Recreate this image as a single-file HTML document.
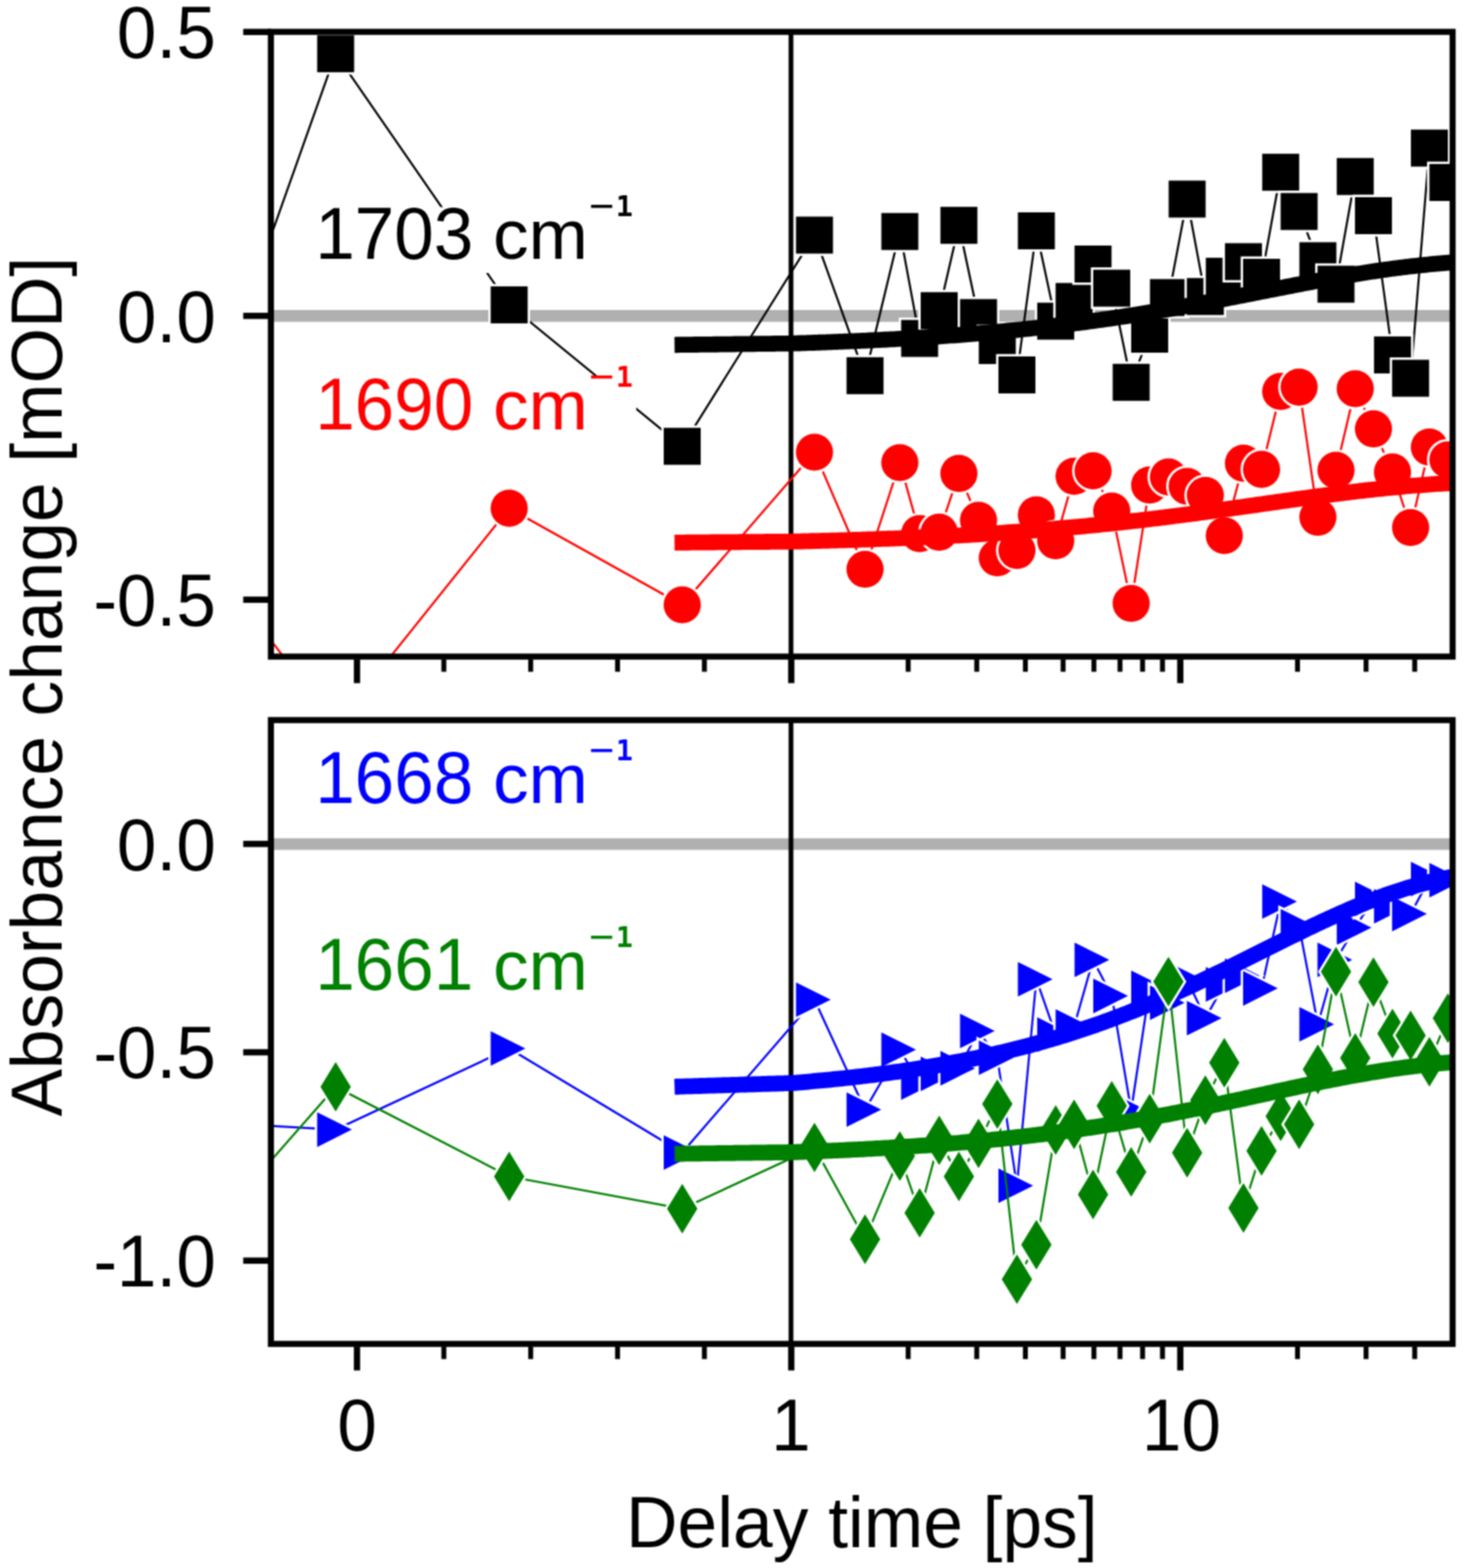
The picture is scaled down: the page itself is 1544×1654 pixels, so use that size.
<!DOCTYPE html><html><head><meta charset="utf-8"><title>Absorbance change vs delay time</title>
<style>html,body{margin:0;padding:0;background:#fff;}svg{display:block;}</style></head><body>
<svg width="1544" height="1654" viewBox="0 0 1544 1654">
<defs><filter id="soft" x="0" y="0" width="1544" height="1654" filterUnits="userSpaceOnUse" color-interpolation-filters="sRGB"><feConvolveMatrix order="3" kernelMatrix="1 2 1 2 4 2 1 2 1" divisor="16" edgeMode="duplicate"/></filter></defs>
<g filter="url(#soft)">
<rect width="100%" height="100%" fill="#fff"/>
<defs><clipPath id="c1"><rect x="285.7" y="33.6" width="1246.3" height="659"/></clipPath>
<clipPath id="c2"><rect x="285.7" y="759.6" width="1246.3" height="658"/></clipPath></defs>
<g clip-path="url(#c1)"><line x1="285.7" y1="333.2" x2="1532" y2="333.2" stroke="#b0b0b0" stroke-width="12.4"/><line x1="834.2" y1="33.6" x2="834.2" y2="692.6" stroke="#000" stroke-width="5"/><polyline points="171,572 354,56.7 537,321.6 719.5,470.8 859,248 912.3,396.3 949,244.2 969.9,357 990.5,327.7 1011.3,237.7 1032,335 1051.8,364.5 1072.5,395.5 1093,243.5 1113.4,338.8 1132.8,318 1152.8,278.5 1172.5,304 1193,403.3 1212.5,352.5 1232.3,313.9 1252,210 1271.2,312.8 1291.2,291.4 1311.4,276 1330.5,292.5 1350.7,181.7 1370.1,223.1 1389.9,275 1409,299.8 1429.3,186.2 1448.5,227.5 1468.6,374.4 1487.7,399 1507.5,156.2 1527,192.5" fill="none" stroke="#000" stroke-width="2.2" stroke-linejoin="miter"/><rect x="151.5" y="552.5" width="39" height="39" fill="#000" stroke="#fff" stroke-width="5" paint-order="stroke"/><rect x="334.5" y="37.2" width="39" height="39" fill="#000" stroke="#fff" stroke-width="5" paint-order="stroke"/><rect x="517.5" y="302.1" width="39" height="39" fill="#000" stroke="#fff" stroke-width="5" paint-order="stroke"/><rect x="700" y="451.3" width="39" height="39" fill="#000" stroke="#fff" stroke-width="5" paint-order="stroke"/><rect x="839.5" y="228.5" width="39" height="39" fill="#000" stroke="#fff" stroke-width="5" paint-order="stroke"/><rect x="892.8" y="376.8" width="39" height="39" fill="#000" stroke="#fff" stroke-width="5" paint-order="stroke"/><rect x="929.5" y="224.7" width="39" height="39" fill="#000" stroke="#fff" stroke-width="5" paint-order="stroke"/><rect x="950.4" y="337.5" width="39" height="39" fill="#000" stroke="#fff" stroke-width="5" paint-order="stroke"/><rect x="971" y="308.2" width="39" height="39" fill="#000" stroke="#fff" stroke-width="5" paint-order="stroke"/><rect x="991.8" y="218.2" width="39" height="39" fill="#000" stroke="#fff" stroke-width="5" paint-order="stroke"/><rect x="1012.5" y="315.5" width="39" height="39" fill="#000" stroke="#fff" stroke-width="5" paint-order="stroke"/><rect x="1032.3" y="345" width="39" height="39" fill="#000" stroke="#fff" stroke-width="5" paint-order="stroke"/><rect x="1053" y="376" width="39" height="39" fill="#000" stroke="#fff" stroke-width="5" paint-order="stroke"/><rect x="1073.5" y="224" width="39" height="39" fill="#000" stroke="#fff" stroke-width="5" paint-order="stroke"/><rect x="1093.9" y="319.3" width="39" height="39" fill="#000" stroke="#fff" stroke-width="5" paint-order="stroke"/><rect x="1113.3" y="298.5" width="39" height="39" fill="#000" stroke="#fff" stroke-width="5" paint-order="stroke"/><rect x="1133.3" y="259" width="39" height="39" fill="#000" stroke="#fff" stroke-width="5" paint-order="stroke"/><rect x="1153" y="284.5" width="39" height="39" fill="#000" stroke="#fff" stroke-width="5" paint-order="stroke"/><rect x="1173.5" y="383.8" width="39" height="39" fill="#000" stroke="#fff" stroke-width="5" paint-order="stroke"/><rect x="1193" y="333" width="39" height="39" fill="#000" stroke="#fff" stroke-width="5" paint-order="stroke"/><rect x="1212.8" y="294.4" width="39" height="39" fill="#000" stroke="#fff" stroke-width="5" paint-order="stroke"/><rect x="1232.5" y="190.5" width="39" height="39" fill="#000" stroke="#fff" stroke-width="5" paint-order="stroke"/><rect x="1251.7" y="293.3" width="39" height="39" fill="#000" stroke="#fff" stroke-width="5" paint-order="stroke"/><rect x="1271.7" y="271.9" width="39" height="39" fill="#000" stroke="#fff" stroke-width="5" paint-order="stroke"/><rect x="1291.9" y="256.5" width="39" height="39" fill="#000" stroke="#fff" stroke-width="5" paint-order="stroke"/><rect x="1311" y="273" width="39" height="39" fill="#000" stroke="#fff" stroke-width="5" paint-order="stroke"/><rect x="1331.2" y="162.2" width="39" height="39" fill="#000" stroke="#fff" stroke-width="5" paint-order="stroke"/><rect x="1350.6" y="203.6" width="39" height="39" fill="#000" stroke="#fff" stroke-width="5" paint-order="stroke"/><rect x="1370.4" y="255.5" width="39" height="39" fill="#000" stroke="#fff" stroke-width="5" paint-order="stroke"/><rect x="1389.5" y="280.3" width="39" height="39" fill="#000" stroke="#fff" stroke-width="5" paint-order="stroke"/><rect x="1409.8" y="166.7" width="39" height="39" fill="#000" stroke="#fff" stroke-width="5" paint-order="stroke"/><rect x="1429" y="208" width="39" height="39" fill="#000" stroke="#fff" stroke-width="5" paint-order="stroke"/><rect x="1449.1" y="354.9" width="39" height="39" fill="#000" stroke="#fff" stroke-width="5" paint-order="stroke"/><rect x="1468.2" y="379.5" width="39" height="39" fill="#000" stroke="#fff" stroke-width="5" paint-order="stroke"/><rect x="1488" y="136.7" width="39" height="39" fill="#000" stroke="#fff" stroke-width="5" paint-order="stroke"/><rect x="1507.5" y="173" width="39" height="39" fill="#000" stroke="#fff" stroke-width="5" paint-order="stroke"/><path d="M711.4 363.78 L714.4 363.74 L717.4 363.71 L720.4 363.67 L723.4 363.63 L726.4 363.6 L729.4 363.56 L732.4 363.52 L735.4 363.49 L738.4 363.45 L741.4 363.41 L744.4 363.38 L747.4 363.34 L750.4 363.3 L753.4 363.27 L756.4 363.23 L759.4 363.19 L762.4 363.16 L765.4 363.12 L768.4 363.08 L771.4 363.05 L774.4 363.01 L777.4 362.97 L780.4 362.94 L783.4 362.9 L786.4 362.86 L789.4 362.83 L792.4 362.79 L795.4 362.75 L798.4 362.72 L801.4 362.68 L804.4 362.64 L807.4 362.61 L810.4 362.57 L813.4 362.53 L816.4 362.5 L819.4 362.46 L822.4 362.43 L825.4 362.39 L828.4 362.35 L831.4 362.32 L834.4 362.27 L837.4 362.18 L840.4 362.08 L843.4 361.99 L846.4 361.89 L849.4 361.79 L852.4 361.68 L855.4 361.58 L858.4 361.48 L861.4 361.37 L864.4 361.26 L867.4 361.15 L870.4 361.04 L873.4 360.92 L876.4 360.81 L879.4 360.69 L882.4 360.57 L885.4 360.45 L888.4 360.33 L891.4 360.2 L894.4 360.08 L897.4 359.95 L900.4 359.82 L903.4 359.69 L906.4 359.55 L909.4 359.42 L912.4 359.28 L915.4 359.14 L918.4 358.99 L921.4 358.85 L924.4 358.7 L927.4 358.55 L930.4 358.4 L933.4 358.24 L936.4 358.09 L939.4 357.93 L942.4 357.77 L945.4 357.6 L948.4 357.44 L951.4 357.27 L954.4 357.1 L957.4 356.92 L960.4 356.75 L963.4 356.57 L966.4 356.39 L969.4 356.2 L972.4 356.01 L975.4 355.82 L978.4 355.63 L981.4 355.44 L984.4 355.24 L987.4 355.04 L990.4 354.83 L993.4 354.63 L996.4 354.42 L999.4 354.2 L1002.4 353.99 L1005.4 353.77 L1008.4 353.55 L1011.4 353.32 L1014.4 353.09 L1017.4 352.86 L1020.4 352.63 L1023.4 352.39 L1026.4 352.15 L1029.4 351.9 L1032.4 351.65 L1035.4 351.4 L1038.4 351.15 L1041.4 350.89 L1044.4 350.62 L1047.4 350.36 L1050.4 350.09 L1053.4 349.82 L1056.4 349.54 L1059.4 349.26 L1062.4 348.98 L1065.4 348.69 L1068.4 348.4 L1071.4 348.1 L1074.4 347.8 L1077.4 347.5 L1080.4 347.19 L1083.4 346.88 L1086.4 346.57 L1089.4 346.25 L1092.4 345.92 L1095.4 345.6 L1098.4 345.27 L1101.4 344.93 L1104.4 344.59 L1107.4 344.25 L1110.4 343.9 L1113.4 343.55 L1116.4 343.2 L1119.4 342.84 L1122.4 342.47 L1125.4 342.1 L1128.4 341.73 L1131.4 341.35 L1134.4 340.97 L1137.4 340.59 L1140.4 340.2 L1143.4 339.8 L1146.4 339.4 L1149.4 339 L1152.4 338.59 L1155.4 338.18 L1158.4 337.77 L1161.4 337.35 L1164.4 336.92 L1167.4 336.49 L1170.4 336.06 L1173.4 335.62 L1176.4 335.18 L1179.4 334.73 L1182.4 334.28 L1185.4 333.83 L1188.4 333.37 L1191.4 332.91 L1194.4 332.44 L1197.4 331.97 L1200.4 331.49 L1203.4 331.01 L1206.4 330.53 L1209.4 330.04 L1212.4 329.54 L1215.4 329.05 L1218.4 328.55 L1221.4 328.04 L1224.4 327.53 L1227.4 327.02 L1230.4 326.51 L1233.4 325.99 L1236.4 325.46 L1239.4 324.93 L1242.4 324.4 L1245.4 323.87 L1248.4 323.33 L1251.4 322.79 L1254.4 322.25 L1257.4 321.7 L1260.4 321.15 L1263.4 320.59 L1266.4 320.04 L1269.4 319.48 L1272.4 318.92 L1275.4 318.35 L1278.4 317.78 L1281.4 317.21 L1284.4 316.64 L1287.4 316.07 L1290.4 315.49 L1293.4 314.91 L1296.4 314.33 L1299.4 313.75 L1302.4 313.16 L1305.4 312.58 L1308.4 311.99 L1311.4 311.41 L1314.4 310.82 L1317.4 310.23 L1320.4 309.64 L1323.4 309.05 L1326.4 308.45 L1329.4 307.86 L1332.4 307.27 L1335.4 306.68 L1338.4 306.09 L1341.4 305.5 L1344.4 304.91 L1347.4 304.32 L1350.4 303.73 L1353.4 303.14 L1356.4 302.56 L1359.4 301.97 L1362.4 301.39 L1365.4 300.81 L1368.4 300.23 L1371.4 299.65 L1374.4 299.08 L1377.4 298.51 L1380.4 297.94 L1383.4 297.38 L1386.4 296.81 L1389.4 296.25 L1392.4 295.7 L1395.4 295.15 L1398.4 294.6 L1401.4 294.06 L1404.4 293.52 L1407.4 292.99 L1410.4 292.46 L1413.4 291.93 L1416.4 291.41 L1419.4 290.9 L1422.4 290.39 L1425.4 289.89 L1428.4 289.39 L1431.4 288.9 L1434.4 288.42 L1437.4 287.94 L1440.4 287.47 L1443.4 287 L1446.4 286.55 L1449.4 286.1 L1452.4 285.65 L1455.4 285.21 L1458.4 284.79 L1461.4 284.36 L1464.4 283.95 L1467.4 283.54 L1470.4 283.15 L1473.4 282.75 L1476.4 282.37 L1479.4 282 L1482.4 281.63 L1485.4 281.27 L1488.4 280.92 L1491.4 280.58 L1494.4 280.25 L1497.4 279.92 L1500.4 279.6 L1503.4 279.3 L1506.4 278.99 L1509.4 278.7 L1512.4 278.42 L1515.4 278.14 L1518.4 277.88 L1521.4 277.62 L1524.4 277.37 L1527.4 277.13 L1530.4 276.89 L1533.4 276.66 L1536.4 276.45 L1539.4 276.24 L1540 276.19" fill="none" stroke="#000" stroke-width="16.8" stroke-linecap="butt" stroke-linejoin="round"/><polyline points="171,525 354,765 537,536.2 719.5,638 859,477 912.3,600.5 949,488 969.9,562.9 990.5,561.3 1011.3,499.4 1032,548.8 1051.8,588.5 1072.5,580.6 1093,543.2 1113.4,570.4 1132.8,502.3 1152.8,496.7 1172.5,539 1193,636.5 1212.5,511.7 1232.3,503.2 1252,513 1271.2,522.6 1291.2,565 1311.4,488.7 1330.5,495.2 1350.7,412.9 1370.1,408.3 1389.9,545.6 1409,496 1429.3,410 1448.5,452.4 1468.6,497.9 1487.7,556.5 1507.5,471.7 1527,485" fill="none" stroke="#f00" stroke-width="2.2" stroke-linejoin="miter"/><circle cx="171" cy="525" r="19.6" fill="#f00" stroke="#fff" stroke-width="5" paint-order="stroke"/><circle cx="354" cy="765" r="19.6" fill="#f00" stroke="#fff" stroke-width="5" paint-order="stroke"/><circle cx="537" cy="536.2" r="19.6" fill="#f00" stroke="#fff" stroke-width="5" paint-order="stroke"/><circle cx="719.5" cy="638" r="19.6" fill="#f00" stroke="#fff" stroke-width="5" paint-order="stroke"/><circle cx="859" cy="477" r="19.6" fill="#f00" stroke="#fff" stroke-width="5" paint-order="stroke"/><circle cx="912.3" cy="600.5" r="19.6" fill="#f00" stroke="#fff" stroke-width="5" paint-order="stroke"/><circle cx="949" cy="488" r="19.6" fill="#f00" stroke="#fff" stroke-width="5" paint-order="stroke"/><circle cx="969.9" cy="562.9" r="19.6" fill="#f00" stroke="#fff" stroke-width="5" paint-order="stroke"/><circle cx="990.5" cy="561.3" r="19.6" fill="#f00" stroke="#fff" stroke-width="5" paint-order="stroke"/><circle cx="1011.3" cy="499.4" r="19.6" fill="#f00" stroke="#fff" stroke-width="5" paint-order="stroke"/><circle cx="1032" cy="548.8" r="19.6" fill="#f00" stroke="#fff" stroke-width="5" paint-order="stroke"/><circle cx="1051.8" cy="588.5" r="19.6" fill="#f00" stroke="#fff" stroke-width="5" paint-order="stroke"/><circle cx="1072.5" cy="580.6" r="19.6" fill="#f00" stroke="#fff" stroke-width="5" paint-order="stroke"/><circle cx="1093" cy="543.2" r="19.6" fill="#f00" stroke="#fff" stroke-width="5" paint-order="stroke"/><circle cx="1113.4" cy="570.4" r="19.6" fill="#f00" stroke="#fff" stroke-width="5" paint-order="stroke"/><circle cx="1132.8" cy="502.3" r="19.6" fill="#f00" stroke="#fff" stroke-width="5" paint-order="stroke"/><circle cx="1152.8" cy="496.7" r="19.6" fill="#f00" stroke="#fff" stroke-width="5" paint-order="stroke"/><circle cx="1172.5" cy="539" r="19.6" fill="#f00" stroke="#fff" stroke-width="5" paint-order="stroke"/><circle cx="1193" cy="636.5" r="19.6" fill="#f00" stroke="#fff" stroke-width="5" paint-order="stroke"/><circle cx="1212.5" cy="511.7" r="19.6" fill="#f00" stroke="#fff" stroke-width="5" paint-order="stroke"/><circle cx="1232.3" cy="503.2" r="19.6" fill="#f00" stroke="#fff" stroke-width="5" paint-order="stroke"/><circle cx="1252" cy="513" r="19.6" fill="#f00" stroke="#fff" stroke-width="5" paint-order="stroke"/><circle cx="1271.2" cy="522.6" r="19.6" fill="#f00" stroke="#fff" stroke-width="5" paint-order="stroke"/><circle cx="1291.2" cy="565" r="19.6" fill="#f00" stroke="#fff" stroke-width="5" paint-order="stroke"/><circle cx="1311.4" cy="488.7" r="19.6" fill="#f00" stroke="#fff" stroke-width="5" paint-order="stroke"/><circle cx="1330.5" cy="495.2" r="19.6" fill="#f00" stroke="#fff" stroke-width="5" paint-order="stroke"/><circle cx="1350.7" cy="412.9" r="19.6" fill="#f00" stroke="#fff" stroke-width="5" paint-order="stroke"/><circle cx="1370.1" cy="408.3" r="19.6" fill="#f00" stroke="#fff" stroke-width="5" paint-order="stroke"/><circle cx="1389.9" cy="545.6" r="19.6" fill="#f00" stroke="#fff" stroke-width="5" paint-order="stroke"/><circle cx="1409" cy="496" r="19.6" fill="#f00" stroke="#fff" stroke-width="5" paint-order="stroke"/><circle cx="1429.3" cy="410" r="19.6" fill="#f00" stroke="#fff" stroke-width="5" paint-order="stroke"/><circle cx="1448.5" cy="452.4" r="19.6" fill="#f00" stroke="#fff" stroke-width="5" paint-order="stroke"/><circle cx="1468.6" cy="497.9" r="19.6" fill="#f00" stroke="#fff" stroke-width="5" paint-order="stroke"/><circle cx="1487.7" cy="556.5" r="19.6" fill="#f00" stroke="#fff" stroke-width="5" paint-order="stroke"/><circle cx="1507.5" cy="471.7" r="19.6" fill="#f00" stroke="#fff" stroke-width="5" paint-order="stroke"/><circle cx="1527" cy="485" r="19.6" fill="#f00" stroke="#fff" stroke-width="5" paint-order="stroke"/><path d="M711.4 572.36 L714.4 572.34 L717.4 572.31 L720.4 572.28 L723.4 572.26 L726.4 572.23 L729.4 572.2 L732.4 572.18 L735.4 572.15 L738.4 572.12 L741.4 572.1 L744.4 572.07 L747.4 572.04 L750.4 572.02 L753.4 571.99 L756.4 571.96 L759.4 571.94 L762.4 571.91 L765.4 571.88 L768.4 571.86 L771.4 571.83 L774.4 571.8 L777.4 571.78 L780.4 571.75 L783.4 571.72 L786.4 571.7 L789.4 571.67 L792.4 571.65 L795.4 571.62 L798.4 571.59 L801.4 571.57 L804.4 571.54 L807.4 571.51 L810.4 571.49 L813.4 571.46 L816.4 571.43 L819.4 571.41 L822.4 571.38 L825.4 571.36 L828.4 571.33 L831.4 571.3 L834.4 571.27 L837.4 571.2 L840.4 571.13 L843.4 571.06 L846.4 570.99 L849.4 570.92 L852.4 570.85 L855.4 570.77 L858.4 570.7 L861.4 570.62 L864.4 570.54 L867.4 570.46 L870.4 570.38 L873.4 570.3 L876.4 570.21 L879.4 570.13 L882.4 570.04 L885.4 569.96 L888.4 569.87 L891.4 569.78 L894.4 569.69 L897.4 569.59 L900.4 569.5 L903.4 569.4 L906.4 569.31 L909.4 569.21 L912.4 569.11 L915.4 569.01 L918.4 568.9 L921.4 568.8 L924.4 568.69 L927.4 568.58 L930.4 568.47 L933.4 568.36 L936.4 568.25 L939.4 568.13 L942.4 568.02 L945.4 567.9 L948.4 567.78 L951.4 567.66 L954.4 567.53 L957.4 567.41 L960.4 567.28 L963.4 567.15 L966.4 567.02 L969.4 566.89 L972.4 566.75 L975.4 566.61 L978.4 566.47 L981.4 566.33 L984.4 566.19 L987.4 566.04 L990.4 565.9 L993.4 565.75 L996.4 565.6 L999.4 565.44 L1002.4 565.29 L1005.4 565.13 L1008.4 564.97 L1011.4 564.8 L1014.4 564.64 L1017.4 564.47 L1020.4 564.3 L1023.4 564.13 L1026.4 563.95 L1029.4 563.78 L1032.4 563.6 L1035.4 563.42 L1038.4 563.23 L1041.4 563.04 L1044.4 562.86 L1047.4 562.66 L1050.4 562.47 L1053.4 562.27 L1056.4 562.07 L1059.4 561.87 L1062.4 561.66 L1065.4 561.46 L1068.4 561.25 L1071.4 561.03 L1074.4 560.82 L1077.4 560.6 L1080.4 560.38 L1083.4 560.15 L1086.4 559.92 L1089.4 559.69 L1092.4 559.46 L1095.4 559.22 L1098.4 558.98 L1101.4 558.74 L1104.4 558.5 L1107.4 558.25 L1110.4 558 L1113.4 557.74 L1116.4 557.49 L1119.4 557.23 L1122.4 556.96 L1125.4 556.7 L1128.4 556.43 L1131.4 556.16 L1134.4 555.88 L1137.4 555.6 L1140.4 555.32 L1143.4 555.04 L1146.4 554.75 L1149.4 554.46 L1152.4 554.16 L1155.4 553.87 L1158.4 553.57 L1161.4 553.26 L1164.4 552.96 L1167.4 552.65 L1170.4 552.33 L1173.4 552.02 L1176.4 551.7 L1179.4 551.37 L1182.4 551.05 L1185.4 550.72 L1188.4 550.39 L1191.4 550.05 L1194.4 549.72 L1197.4 549.37 L1200.4 549.03 L1203.4 548.68 L1206.4 548.33 L1209.4 547.98 L1212.4 547.62 L1215.4 547.27 L1218.4 546.9 L1221.4 546.54 L1224.4 546.17 L1227.4 545.8 L1230.4 545.43 L1233.4 545.05 L1236.4 544.67 L1239.4 544.29 L1242.4 543.91 L1245.4 543.52 L1248.4 543.14 L1251.4 542.74 L1254.4 542.35 L1257.4 541.96 L1260.4 541.56 L1263.4 541.16 L1266.4 540.76 L1269.4 540.35 L1272.4 539.94 L1275.4 539.54 L1278.4 539.13 L1281.4 538.71 L1284.4 538.3 L1287.4 537.89 L1290.4 537.47 L1293.4 537.05 L1296.4 536.63 L1299.4 536.21 L1302.4 535.79 L1305.4 535.37 L1308.4 534.94 L1311.4 534.52 L1314.4 534.09 L1317.4 533.67 L1320.4 533.24 L1323.4 532.81 L1326.4 532.39 L1329.4 531.96 L1332.4 531.53 L1335.4 531.1 L1338.4 530.68 L1341.4 530.25 L1344.4 529.82 L1347.4 529.4 L1350.4 528.97 L1353.4 528.55 L1356.4 528.13 L1359.4 527.7 L1362.4 527.28 L1365.4 526.86 L1368.4 526.44 L1371.4 526.03 L1374.4 525.61 L1377.4 525.2 L1380.4 524.79 L1383.4 524.38 L1386.4 523.97 L1389.4 523.57 L1392.4 523.17 L1395.4 522.77 L1398.4 522.38 L1401.4 521.98 L1404.4 521.6 L1407.4 521.21 L1410.4 520.83 L1413.4 520.45 L1416.4 520.07 L1419.4 519.7 L1422.4 519.34 L1425.4 518.97 L1428.4 518.61 L1431.4 518.26 L1434.4 517.91 L1437.4 517.56 L1440.4 517.22 L1443.4 516.89 L1446.4 516.56 L1449.4 516.23 L1452.4 515.91 L1455.4 515.59 L1458.4 515.28 L1461.4 514.98 L1464.4 514.68 L1467.4 514.39 L1470.4 514.1 L1473.4 513.82 L1476.4 513.54 L1479.4 513.27 L1482.4 513 L1485.4 512.75 L1488.4 512.49 L1491.4 512.25 L1494.4 512 L1497.4 511.77 L1500.4 511.54 L1503.4 511.32 L1506.4 511.1 L1509.4 510.89 L1512.4 510.68 L1515.4 510.49 L1518.4 510.29 L1521.4 510.11 L1524.4 509.93 L1527.4 509.75 L1530.4 509.58 L1533.4 509.42 L1536.4 509.26 L1539.4 509.11 L1540 509.08" fill="none" stroke="#f00" stroke-width="16.8" stroke-linecap="butt" stroke-linejoin="round"/><rect x="328" y="218.5" width="343" height="69.5" fill="#fff"/><text transform="translate(332.4,273) scale(1,1.035)" fill="#000" font-size="75" font-family='"Liberation Sans", Arial, sans-serif'>1703</text><text x="520.05" y="273" fill="#000" font-size="75" font-family='"Liberation Sans", Arial, sans-serif'>cm</text><text x="621.2" y="232.8" fill="#000" font-size="46" font-family='"Liberation Sans", Arial, sans-serif'>&#8722;</text><text x="649.4" y="228" fill="#000" font-size="30" font-weight="bold" font-family='"DejaVu Sans Mono", monospace'>1</text><rect x="328" y="398.7" width="343" height="69.5" fill="#fff"/><text transform="translate(332.4,453.2) scale(1,1.035)" fill="#f00" font-size="75" font-family='"Liberation Sans", Arial, sans-serif'>1690</text><text x="520.05" y="453.2" fill="#f00" font-size="75" font-family='"Liberation Sans", Arial, sans-serif'>cm</text><text x="621.2" y="413" fill="#f00" font-size="46" font-family='"Liberation Sans", Arial, sans-serif'>&#8722;</text><text x="649.4" y="408.2" fill="#f00" font-size="30" font-weight="bold" font-family='"DejaVu Sans Mono", monospace'>1</text></g>
<g clip-path="url(#c2)"><line x1="285.7" y1="890.4" x2="1532" y2="890.4" stroke="#b0b0b0" stroke-width="12.4"/><line x1="834.2" y1="759.6" x2="834.2" y2="1417.6" stroke="#000" stroke-width="5"/><polyline points="171,1181 354,1191.6 537,1106 719.5,1215.8 859,1054.5 912.3,1170.5 949,1107.3 969.9,1142 990.5,1132.7 1011.3,1126.9 1032,1087.5 1051.8,1115.7 1072.5,1250.7 1093,1033 1113.4,1091.4 1132.8,1082.7 1152.8,1012.5 1172.5,1050.6 1193,1171.5 1212.5,1042 1232.3,1057.7 1252,1033.6 1271.2,1074 1291.2,1038.4 1311.4,1029.2 1330.5,1042.6 1350.7,951 1370.1,977 1389.9,1080.5 1409,1012.5 1429.3,978.5 1448.5,948.2 1468.6,956 1487.7,964.1 1507.5,927.2 1527,928.5" fill="none" stroke="#00f" stroke-width="2.2" stroke-linejoin="miter"/><polygon points="151.5,1162.7 188.1,1181 151.5,1199.3" fill="#00f" stroke="#fff" stroke-width="5" paint-order="stroke"/><polygon points="334.5,1173.3 371.1,1191.6 334.5,1209.9" fill="#00f" stroke="#fff" stroke-width="5" paint-order="stroke"/><polygon points="517.5,1087.7 554.1,1106 517.5,1124.3" fill="#00f" stroke="#fff" stroke-width="5" paint-order="stroke"/><polygon points="700,1197.5 736.6,1215.8 700,1234.1" fill="#00f" stroke="#fff" stroke-width="5" paint-order="stroke"/><polygon points="839.5,1036.2 876.1,1054.5 839.5,1072.8" fill="#00f" stroke="#fff" stroke-width="5" paint-order="stroke"/><polygon points="892.8,1152.2 929.4,1170.5 892.8,1188.8" fill="#00f" stroke="#fff" stroke-width="5" paint-order="stroke"/><polygon points="929.5,1089 966.1,1107.3 929.5,1125.6" fill="#00f" stroke="#fff" stroke-width="5" paint-order="stroke"/><polygon points="950.4,1123.7 987,1142 950.4,1160.3" fill="#00f" stroke="#fff" stroke-width="5" paint-order="stroke"/><polygon points="971,1114.4 1007.6,1132.7 971,1151" fill="#00f" stroke="#fff" stroke-width="5" paint-order="stroke"/><polygon points="991.8,1108.6 1028.4,1126.9 991.8,1145.2" fill="#00f" stroke="#fff" stroke-width="5" paint-order="stroke"/><polygon points="1012.5,1069.2 1049.1,1087.5 1012.5,1105.8" fill="#00f" stroke="#fff" stroke-width="5" paint-order="stroke"/><polygon points="1032.3,1097.4 1068.9,1115.7 1032.3,1134" fill="#00f" stroke="#fff" stroke-width="5" paint-order="stroke"/><polygon points="1053,1232.4 1089.6,1250.7 1053,1269" fill="#00f" stroke="#fff" stroke-width="5" paint-order="stroke"/><polygon points="1073.5,1014.7 1110.1,1033 1073.5,1051.3" fill="#00f" stroke="#fff" stroke-width="5" paint-order="stroke"/><polygon points="1093.9,1073.1 1130.5,1091.4 1093.9,1109.7" fill="#00f" stroke="#fff" stroke-width="5" paint-order="stroke"/><polygon points="1113.3,1064.4 1149.9,1082.7 1113.3,1101" fill="#00f" stroke="#fff" stroke-width="5" paint-order="stroke"/><polygon points="1133.3,994.2 1169.9,1012.5 1133.3,1030.8" fill="#00f" stroke="#fff" stroke-width="5" paint-order="stroke"/><polygon points="1153,1032.3 1189.6,1050.6 1153,1068.9" fill="#00f" stroke="#fff" stroke-width="5" paint-order="stroke"/><polygon points="1173.5,1153.2 1210.1,1171.5 1173.5,1189.8" fill="#00f" stroke="#fff" stroke-width="5" paint-order="stroke"/><polygon points="1193,1023.7 1229.6,1042 1193,1060.3" fill="#00f" stroke="#fff" stroke-width="5" paint-order="stroke"/><polygon points="1212.8,1039.4 1249.4,1057.7 1212.8,1076" fill="#00f" stroke="#fff" stroke-width="5" paint-order="stroke"/><polygon points="1232.5,1015.3 1269.1,1033.6 1232.5,1051.9" fill="#00f" stroke="#fff" stroke-width="5" paint-order="stroke"/><polygon points="1251.7,1055.7 1288.3,1074 1251.7,1092.3" fill="#00f" stroke="#fff" stroke-width="5" paint-order="stroke"/><polygon points="1271.7,1020.1 1308.3,1038.4 1271.7,1056.7" fill="#00f" stroke="#fff" stroke-width="5" paint-order="stroke"/><polygon points="1291.9,1010.9 1328.5,1029.2 1291.9,1047.5" fill="#00f" stroke="#fff" stroke-width="5" paint-order="stroke"/><polygon points="1311,1024.3 1347.6,1042.6 1311,1060.9" fill="#00f" stroke="#fff" stroke-width="5" paint-order="stroke"/><polygon points="1331.2,932.7 1367.8,951 1331.2,969.3" fill="#00f" stroke="#fff" stroke-width="5" paint-order="stroke"/><polygon points="1350.6,958.7 1387.2,977 1350.6,995.3" fill="#00f" stroke="#fff" stroke-width="5" paint-order="stroke"/><polygon points="1370.4,1062.2 1407,1080.5 1370.4,1098.8" fill="#00f" stroke="#fff" stroke-width="5" paint-order="stroke"/><polygon points="1389.5,994.2 1426.1,1012.5 1389.5,1030.8" fill="#00f" stroke="#fff" stroke-width="5" paint-order="stroke"/><polygon points="1409.8,960.2 1446.4,978.5 1409.8,996.8" fill="#00f" stroke="#fff" stroke-width="5" paint-order="stroke"/><polygon points="1429,929.9 1465.6,948.2 1429,966.5" fill="#00f" stroke="#fff" stroke-width="5" paint-order="stroke"/><polygon points="1449.1,937.7 1485.7,956 1449.1,974.3" fill="#00f" stroke="#fff" stroke-width="5" paint-order="stroke"/><polygon points="1468.2,945.8 1504.8,964.1 1468.2,982.4" fill="#00f" stroke="#fff" stroke-width="5" paint-order="stroke"/><polygon points="1488,908.9 1524.6,927.2 1488,945.5" fill="#00f" stroke="#fff" stroke-width="5" paint-order="stroke"/><polygon points="1507.5,910.2 1544.1,928.5 1507.5,946.8" fill="#00f" stroke="#fff" stroke-width="5" paint-order="stroke"/><path d="M711.4 1146.35 L714.4 1146.25 L717.4 1146.16 L720.4 1146.06 L723.4 1145.97 L726.4 1145.88 L729.4 1145.78 L732.4 1145.69 L735.4 1145.6 L738.4 1145.5 L741.4 1145.41 L744.4 1145.31 L747.4 1145.22 L750.4 1145.13 L753.4 1145.03 L756.4 1144.94 L759.4 1144.85 L762.4 1144.75 L765.4 1144.66 L768.4 1144.57 L771.4 1144.47 L774.4 1144.38 L777.4 1144.29 L780.4 1144.19 L783.4 1144.1 L786.4 1144.01 L789.4 1143.91 L792.4 1143.82 L795.4 1143.73 L798.4 1143.64 L801.4 1143.54 L804.4 1143.45 L807.4 1143.36 L810.4 1143.26 L813.4 1143.17 L816.4 1143.08 L819.4 1142.99 L822.4 1142.89 L825.4 1142.8 L828.4 1142.71 L831.4 1142.62 L834.4 1142.5 L837.4 1142.26 L840.4 1142.02 L843.4 1141.77 L846.4 1141.52 L849.4 1141.27 L852.4 1141.01 L855.4 1140.75 L858.4 1140.48 L861.4 1140.21 L864.4 1139.93 L867.4 1139.65 L870.4 1139.37 L873.4 1139.08 L876.4 1138.78 L879.4 1138.48 L882.4 1138.18 L885.4 1137.87 L888.4 1137.56 L891.4 1137.24 L894.4 1136.92 L897.4 1136.59 L900.4 1136.26 L903.4 1135.93 L906.4 1135.58 L909.4 1135.23 L912.4 1134.88 L915.4 1134.52 L918.4 1134.16 L921.4 1133.79 L924.4 1133.41 L927.4 1133.03 L930.4 1132.65 L933.4 1132.25 L936.4 1131.86 L939.4 1131.45 L942.4 1131.04 L945.4 1130.62 L948.4 1130.2 L951.4 1129.77 L954.4 1129.33 L957.4 1128.89 L960.4 1128.44 L963.4 1127.99 L966.4 1127.53 L969.4 1127.06 L972.4 1126.58 L975.4 1126.1 L978.4 1125.61 L981.4 1125.11 L984.4 1124.61 L987.4 1124.09 L990.4 1123.57 L993.4 1123.05 L996.4 1122.51 L999.4 1121.97 L1002.4 1121.42 L1005.4 1120.86 L1008.4 1120.3 L1011.4 1119.73 L1014.4 1119.14 L1017.4 1118.55 L1020.4 1117.96 L1023.4 1117.35 L1026.4 1116.74 L1029.4 1116.11 L1032.4 1115.48 L1035.4 1114.84 L1038.4 1114.19 L1041.4 1113.53 L1044.4 1112.86 L1047.4 1112.19 L1050.4 1111.5 L1053.4 1110.81 L1056.4 1110.1 L1059.4 1109.39 L1062.4 1108.67 L1065.4 1107.94 L1068.4 1107.19 L1071.4 1106.44 L1074.4 1105.68 L1077.4 1104.91 L1080.4 1104.13 L1083.4 1103.34 L1086.4 1102.54 L1089.4 1101.73 L1092.4 1100.91 L1095.4 1100.07 L1098.4 1099.23 L1101.4 1098.38 L1104.4 1097.52 L1107.4 1096.64 L1110.4 1095.76 L1113.4 1094.87 L1116.4 1093.96 L1119.4 1093.05 L1122.4 1092.12 L1125.4 1091.18 L1128.4 1090.23 L1131.4 1089.27 L1134.4 1088.3 L1137.4 1087.32 L1140.4 1086.33 L1143.4 1085.33 L1146.4 1084.31 L1149.4 1083.29 L1152.4 1082.25 L1155.4 1081.21 L1158.4 1080.15 L1161.4 1079.08 L1164.4 1078 L1167.4 1076.91 L1170.4 1075.8 L1173.4 1074.69 L1176.4 1073.57 L1179.4 1072.43 L1182.4 1071.28 L1185.4 1070.13 L1188.4 1068.96 L1191.4 1067.78 L1194.4 1066.59 L1197.4 1065.39 L1200.4 1064.18 L1203.4 1062.95 L1206.4 1061.72 L1209.4 1060.48 L1212.4 1059.22 L1215.4 1057.96 L1218.4 1056.69 L1221.4 1055.4 L1224.4 1054.11 L1227.4 1052.8 L1230.4 1051.49 L1233.4 1050.17 L1236.4 1048.83 L1239.4 1047.49 L1242.4 1046.14 L1245.4 1044.78 L1248.4 1043.41 L1251.4 1042.04 L1254.4 1040.65 L1257.4 1039.26 L1260.4 1037.86 L1263.4 1036.45 L1266.4 1035.03 L1269.4 1033.61 L1272.4 1032.18 L1275.4 1030.74 L1278.4 1029.29 L1281.4 1027.84 L1284.4 1026.39 L1287.4 1024.92 L1290.4 1023.46 L1293.4 1021.99 L1296.4 1020.51 L1299.4 1019.03 L1302.4 1017.54 L1305.4 1016.05 L1308.4 1014.56 L1311.4 1013.06 L1314.4 1011.57 L1317.4 1010.07 L1320.4 1008.56 L1323.4 1007.06 L1326.4 1005.56 L1329.4 1004.05 L1332.4 1002.55 L1335.4 1001.04 L1338.4 999.54 L1341.4 998.03 L1344.4 996.53 L1347.4 995.03 L1350.4 993.53 L1353.4 992.04 L1356.4 990.55 L1359.4 989.06 L1362.4 987.58 L1365.4 986.1 L1368.4 984.63 L1371.4 983.16 L1374.4 981.7 L1377.4 980.25 L1380.4 978.8 L1383.4 977.36 L1386.4 975.93 L1389.4 974.51 L1392.4 973.1 L1395.4 971.7 L1398.4 970.3 L1401.4 968.92 L1404.4 967.55 L1407.4 966.19 L1410.4 964.85 L1413.4 963.51 L1416.4 962.19 L1419.4 960.88 L1422.4 959.59 L1425.4 958.31 L1428.4 957.05 L1431.4 955.8 L1434.4 954.57 L1437.4 953.35 L1440.4 952.15 L1443.4 950.97 L1446.4 949.81 L1449.4 948.66 L1452.4 947.53 L1455.4 946.42 L1458.4 945.33 L1461.4 944.25 L1464.4 943.2 L1467.4 942.17 L1470.4 941.15 L1473.4 940.16 L1476.4 939.18 L1479.4 938.23 L1482.4 937.3 L1485.4 936.38 L1488.4 935.49 L1491.4 934.62 L1494.4 933.77 L1497.4 932.95 L1500.4 932.14 L1503.4 931.35 L1506.4 930.59 L1509.4 929.85 L1512.4 929.13 L1515.4 928.43 L1518.4 927.75 L1521.4 927.09 L1524.4 926.45 L1527.4 925.83 L1530.4 925.24 L1533.4 924.66 L1536.4 924.11 L1539.4 923.57 L1540 923.46" fill="none" stroke="#00f" stroke-width="16.8" stroke-linecap="butt" stroke-linejoin="round"/><polyline points="171,1355 354,1146.4 537,1241 719.5,1275 859,1210.4 912.3,1307.3 949,1219.5 969.9,1279.4 990.5,1202.9 1011.3,1241 1032,1206.1 1051.8,1164.6 1072.5,1349.4 1093,1313 1113.4,1192 1132.8,1186 1152.8,1260 1172.5,1166.5 1193,1236.3 1212.5,1180 1232.3,1035.4 1252,1216 1271.2,1160.5 1291.2,1121 1311.4,1274.3 1330.5,1214 1350.7,1177.5 1370.1,1186 1389.9,1128 1409,1025 1429.3,1116 1448.5,1036 1468.6,1090.3 1487.7,1092.3 1507.5,1120 1527,1074" fill="none" stroke="#008000" stroke-width="2.2" stroke-linejoin="miter"/><polygon points="171,1328.8 187,1355 171,1381.2 155,1355" fill="#008000" stroke="#fff" stroke-width="5" paint-order="stroke"/><polygon points="354,1120.2 370,1146.4 354,1172.6 338,1146.4" fill="#008000" stroke="#fff" stroke-width="5" paint-order="stroke"/><polygon points="537,1214.8 553,1241 537,1267.2 521,1241" fill="#008000" stroke="#fff" stroke-width="5" paint-order="stroke"/><polygon points="719.5,1248.8 735.5,1275 719.5,1301.2 703.5,1275" fill="#008000" stroke="#fff" stroke-width="5" paint-order="stroke"/><polygon points="859,1184.2 875,1210.4 859,1236.6 843,1210.4" fill="#008000" stroke="#fff" stroke-width="5" paint-order="stroke"/><polygon points="912.3,1281.1 928.3,1307.3 912.3,1333.5 896.3,1307.3" fill="#008000" stroke="#fff" stroke-width="5" paint-order="stroke"/><polygon points="949,1193.3 965,1219.5 949,1245.7 933,1219.5" fill="#008000" stroke="#fff" stroke-width="5" paint-order="stroke"/><polygon points="969.9,1253.2 985.9,1279.4 969.9,1305.6 953.9,1279.4" fill="#008000" stroke="#fff" stroke-width="5" paint-order="stroke"/><polygon points="990.5,1176.7 1006.5,1202.9 990.5,1229.1 974.5,1202.9" fill="#008000" stroke="#fff" stroke-width="5" paint-order="stroke"/><polygon points="1011.3,1214.8 1027.3,1241 1011.3,1267.2 995.3,1241" fill="#008000" stroke="#fff" stroke-width="5" paint-order="stroke"/><polygon points="1032,1179.9 1048,1206.1 1032,1232.3 1016,1206.1" fill="#008000" stroke="#fff" stroke-width="5" paint-order="stroke"/><polygon points="1051.8,1138.4 1067.8,1164.6 1051.8,1190.8 1035.8,1164.6" fill="#008000" stroke="#fff" stroke-width="5" paint-order="stroke"/><polygon points="1072.5,1323.2 1088.5,1349.4 1072.5,1375.6 1056.5,1349.4" fill="#008000" stroke="#fff" stroke-width="5" paint-order="stroke"/><polygon points="1093,1286.8 1109,1313 1093,1339.2 1077,1313" fill="#008000" stroke="#fff" stroke-width="5" paint-order="stroke"/><polygon points="1113.4,1165.8 1129.4,1192 1113.4,1218.2 1097.4,1192" fill="#008000" stroke="#fff" stroke-width="5" paint-order="stroke"/><polygon points="1132.8,1159.8 1148.8,1186 1132.8,1212.2 1116.8,1186" fill="#008000" stroke="#fff" stroke-width="5" paint-order="stroke"/><polygon points="1152.8,1233.8 1168.8,1260 1152.8,1286.2 1136.8,1260" fill="#008000" stroke="#fff" stroke-width="5" paint-order="stroke"/><polygon points="1172.5,1140.3 1188.5,1166.5 1172.5,1192.7 1156.5,1166.5" fill="#008000" stroke="#fff" stroke-width="5" paint-order="stroke"/><polygon points="1193,1210.1 1209,1236.3 1193,1262.5 1177,1236.3" fill="#008000" stroke="#fff" stroke-width="5" paint-order="stroke"/><polygon points="1212.5,1153.8 1228.5,1180 1212.5,1206.2 1196.5,1180" fill="#008000" stroke="#fff" stroke-width="5" paint-order="stroke"/><polygon points="1232.3,1009.2 1248.3,1035.4 1232.3,1061.6 1216.3,1035.4" fill="#008000" stroke="#fff" stroke-width="5" paint-order="stroke"/><polygon points="1252,1189.8 1268,1216 1252,1242.2 1236,1216" fill="#008000" stroke="#fff" stroke-width="5" paint-order="stroke"/><polygon points="1271.2,1134.3 1287.2,1160.5 1271.2,1186.7 1255.2,1160.5" fill="#008000" stroke="#fff" stroke-width="5" paint-order="stroke"/><polygon points="1291.2,1094.8 1307.2,1121 1291.2,1147.2 1275.2,1121" fill="#008000" stroke="#fff" stroke-width="5" paint-order="stroke"/><polygon points="1311.4,1248.1 1327.4,1274.3 1311.4,1300.5 1295.4,1274.3" fill="#008000" stroke="#fff" stroke-width="5" paint-order="stroke"/><polygon points="1330.5,1187.8 1346.5,1214 1330.5,1240.2 1314.5,1214" fill="#008000" stroke="#fff" stroke-width="5" paint-order="stroke"/><polygon points="1350.7,1151.3 1366.7,1177.5 1350.7,1203.7 1334.7,1177.5" fill="#008000" stroke="#fff" stroke-width="5" paint-order="stroke"/><polygon points="1370.1,1159.8 1386.1,1186 1370.1,1212.2 1354.1,1186" fill="#008000" stroke="#fff" stroke-width="5" paint-order="stroke"/><polygon points="1389.9,1101.8 1405.9,1128 1389.9,1154.2 1373.9,1128" fill="#008000" stroke="#fff" stroke-width="5" paint-order="stroke"/><polygon points="1409,998.8 1425,1025 1409,1051.2 1393,1025" fill="#008000" stroke="#fff" stroke-width="5" paint-order="stroke"/><polygon points="1429.3,1089.8 1445.3,1116 1429.3,1142.2 1413.3,1116" fill="#008000" stroke="#fff" stroke-width="5" paint-order="stroke"/><polygon points="1448.5,1009.8 1464.5,1036 1448.5,1062.2 1432.5,1036" fill="#008000" stroke="#fff" stroke-width="5" paint-order="stroke"/><polygon points="1468.6,1064.1 1484.6,1090.3 1468.6,1116.5 1452.6,1090.3" fill="#008000" stroke="#fff" stroke-width="5" paint-order="stroke"/><polygon points="1487.7,1066.1 1503.7,1092.3 1487.7,1118.5 1471.7,1092.3" fill="#008000" stroke="#fff" stroke-width="5" paint-order="stroke"/><polygon points="1507.5,1093.8 1523.5,1120 1507.5,1146.2 1491.5,1120" fill="#008000" stroke="#fff" stroke-width="5" paint-order="stroke"/><polygon points="1527,1047.8 1543,1074 1527,1100.2 1511,1074" fill="#008000" stroke="#fff" stroke-width="5" paint-order="stroke"/><path d="M711.4 1217.12 L714.4 1217.07 L717.4 1217.03 L720.4 1216.99 L723.4 1216.95 L726.4 1216.91 L729.4 1216.87 L732.4 1216.83 L735.4 1216.79 L738.4 1216.75 L741.4 1216.71 L744.4 1216.66 L747.4 1216.62 L750.4 1216.58 L753.4 1216.54 L756.4 1216.5 L759.4 1216.46 L762.4 1216.42 L765.4 1216.38 L768.4 1216.34 L771.4 1216.3 L774.4 1216.26 L777.4 1216.22 L780.4 1216.18 L783.4 1216.14 L786.4 1216.09 L789.4 1216.05 L792.4 1216.01 L795.4 1215.97 L798.4 1215.93 L801.4 1215.89 L804.4 1215.85 L807.4 1215.81 L810.4 1215.77 L813.4 1215.73 L816.4 1215.69 L819.4 1215.65 L822.4 1215.61 L825.4 1215.57 L828.4 1215.53 L831.4 1215.49 L834.4 1215.44 L837.4 1215.33 L840.4 1215.23 L843.4 1215.12 L846.4 1215.01 L849.4 1214.9 L852.4 1214.79 L855.4 1214.67 L858.4 1214.55 L861.4 1214.44 L864.4 1214.32 L867.4 1214.19 L870.4 1214.07 L873.4 1213.94 L876.4 1213.81 L879.4 1213.68 L882.4 1213.55 L885.4 1213.42 L888.4 1213.28 L891.4 1213.14 L894.4 1213 L897.4 1212.86 L900.4 1212.71 L903.4 1212.57 L906.4 1212.42 L909.4 1212.27 L912.4 1212.11 L915.4 1211.96 L918.4 1211.8 L921.4 1211.64 L924.4 1211.47 L927.4 1211.31 L930.4 1211.14 L933.4 1210.96 L936.4 1210.79 L939.4 1210.61 L942.4 1210.44 L945.4 1210.25 L948.4 1210.07 L951.4 1209.88 L954.4 1209.69 L957.4 1209.5 L960.4 1209.3 L963.4 1209.1 L966.4 1208.9 L969.4 1208.7 L972.4 1208.49 L975.4 1208.28 L978.4 1208.06 L981.4 1207.85 L984.4 1207.63 L987.4 1207.4 L990.4 1207.18 L993.4 1206.95 L996.4 1206.71 L999.4 1206.48 L1002.4 1206.24 L1005.4 1205.99 L1008.4 1205.75 L1011.4 1205.5 L1014.4 1205.24 L1017.4 1204.99 L1020.4 1204.72 L1023.4 1204.46 L1026.4 1204.19 L1029.4 1203.92 L1032.4 1203.64 L1035.4 1203.36 L1038.4 1203.08 L1041.4 1202.79 L1044.4 1202.5 L1047.4 1202.21 L1050.4 1201.91 L1053.4 1201.61 L1056.4 1201.3 L1059.4 1200.99 L1062.4 1200.67 L1065.4 1200.35 L1068.4 1200.03 L1071.4 1199.7 L1074.4 1199.37 L1077.4 1199.03 L1080.4 1198.69 L1083.4 1198.35 L1086.4 1198 L1089.4 1197.64 L1092.4 1197.28 L1095.4 1196.92 L1098.4 1196.55 L1101.4 1196.18 L1104.4 1195.8 L1107.4 1195.42 L1110.4 1195.04 L1113.4 1194.65 L1116.4 1194.25 L1119.4 1193.85 L1122.4 1193.45 L1125.4 1193.04 L1128.4 1192.63 L1131.4 1192.21 L1134.4 1191.78 L1137.4 1191.36 L1140.4 1190.92 L1143.4 1190.49 L1146.4 1190.04 L1149.4 1189.6 L1152.4 1189.14 L1155.4 1188.69 L1158.4 1188.22 L1161.4 1187.76 L1164.4 1187.29 L1167.4 1186.81 L1170.4 1186.33 L1173.4 1185.84 L1176.4 1185.35 L1179.4 1184.86 L1182.4 1184.36 L1185.4 1183.85 L1188.4 1183.34 L1191.4 1182.83 L1194.4 1182.31 L1197.4 1181.78 L1200.4 1181.25 L1203.4 1180.72 L1206.4 1180.18 L1209.4 1179.64 L1212.4 1179.09 L1215.4 1178.54 L1218.4 1177.98 L1221.4 1177.42 L1224.4 1176.86 L1227.4 1176.29 L1230.4 1175.72 L1233.4 1175.14 L1236.4 1174.56 L1239.4 1173.97 L1242.4 1173.38 L1245.4 1172.79 L1248.4 1172.19 L1251.4 1171.59 L1254.4 1170.99 L1257.4 1170.38 L1260.4 1169.77 L1263.4 1169.15 L1266.4 1168.53 L1269.4 1167.91 L1272.4 1167.29 L1275.4 1166.66 L1278.4 1166.03 L1281.4 1165.4 L1284.4 1164.76 L1287.4 1164.12 L1290.4 1163.48 L1293.4 1162.84 L1296.4 1162.2 L1299.4 1161.55 L1302.4 1160.9 L1305.4 1160.25 L1308.4 1159.6 L1311.4 1158.95 L1314.4 1158.29 L1317.4 1157.64 L1320.4 1156.98 L1323.4 1156.33 L1326.4 1155.67 L1329.4 1155.01 L1332.4 1154.36 L1335.4 1153.7 L1338.4 1153.04 L1341.4 1152.39 L1344.4 1151.73 L1347.4 1151.08 L1350.4 1150.42 L1353.4 1149.77 L1356.4 1149.12 L1359.4 1148.47 L1362.4 1147.82 L1365.4 1147.18 L1368.4 1146.54 L1371.4 1145.9 L1374.4 1145.26 L1377.4 1144.62 L1380.4 1143.99 L1383.4 1143.36 L1386.4 1142.74 L1389.4 1142.12 L1392.4 1141.5 L1395.4 1140.89 L1398.4 1140.28 L1401.4 1139.68 L1404.4 1139.08 L1407.4 1138.49 L1410.4 1137.9 L1413.4 1137.32 L1416.4 1136.74 L1419.4 1136.17 L1422.4 1135.61 L1425.4 1135.05 L1428.4 1134.5 L1431.4 1133.95 L1434.4 1133.42 L1437.4 1132.89 L1440.4 1132.36 L1443.4 1131.85 L1446.4 1131.34 L1449.4 1130.84 L1452.4 1130.34 L1455.4 1129.86 L1458.4 1129.38 L1461.4 1128.92 L1464.4 1128.46 L1467.4 1128 L1470.4 1127.56 L1473.4 1127.13 L1476.4 1126.7 L1479.4 1126.29 L1482.4 1125.88 L1485.4 1125.48 L1488.4 1125.09 L1491.4 1124.71 L1494.4 1124.34 L1497.4 1123.98 L1500.4 1123.63 L1503.4 1123.29 L1506.4 1122.95 L1509.4 1122.63 L1512.4 1122.31 L1515.4 1122.01 L1518.4 1121.71 L1521.4 1121.42 L1524.4 1121.15 L1527.4 1120.88 L1530.4 1120.62 L1533.4 1120.36 L1536.4 1120.12 L1539.4 1119.89 L1540 1119.84" fill="none" stroke="#008000" stroke-width="16.8" stroke-linecap="butt" stroke-linejoin="round"/><rect x="328" y="792.7" width="343" height="69.5" fill="#fff"/><text transform="translate(332.4,847.2) scale(1,1.035)" fill="#00f" font-size="75" font-family='"Liberation Sans", Arial, sans-serif'>1668</text><text x="520.05" y="847.2" fill="#00f" font-size="75" font-family='"Liberation Sans", Arial, sans-serif'>cm</text><text x="621.2" y="807" fill="#00f" font-size="46" font-family='"Liberation Sans", Arial, sans-serif'>&#8722;</text><text x="649.4" y="802.2" fill="#00f" font-size="30" font-weight="bold" font-family='"DejaVu Sans Mono", monospace'>1</text><rect x="328" y="989.9" width="343" height="69.5" fill="#fff"/><text transform="translate(332.4,1044.4) scale(1,1.035)" fill="#008000" font-size="75" font-family='"Liberation Sans", Arial, sans-serif'>1661</text><text x="520.05" y="1044.4" fill="#008000" font-size="75" font-family='"Liberation Sans", Arial, sans-serif'>cm</text><text x="621.2" y="1004.2" fill="#008000" font-size="46" font-family='"Liberation Sans", Arial, sans-serif'>&#8722;</text><text x="649.4" y="999.4" fill="#008000" font-size="30" font-weight="bold" font-family='"DejaVu Sans Mono", monospace'>1</text></g>
<rect x="285.7" y="33.6" width="1246.3" height="659" fill="none" stroke="#000" stroke-width="6.4"/>
<rect x="285.7" y="759.6" width="1246.3" height="658" fill="none" stroke="#000" stroke-width="6.4"/>
<line x1="376.5" y1="695.3" x2="376.5" y2="720.6" stroke="#000" stroke-width="6.6"/><line x1="834.5" y1="695.3" x2="834.5" y2="720.6" stroke="#000" stroke-width="6.6"/><line x1="1244.8" y1="695.3" x2="1244.8" y2="720.6" stroke="#000" stroke-width="6.6"/><line x1="468.1" y1="695.3" x2="468.1" y2="708.6" stroke="#000" stroke-width="5.2"/><line x1="559.7" y1="695.3" x2="559.7" y2="708.6" stroke="#000" stroke-width="5.2"/><line x1="651.3" y1="695.3" x2="651.3" y2="708.6" stroke="#000" stroke-width="5.2"/><line x1="742.9" y1="695.3" x2="742.9" y2="708.6" stroke="#000" stroke-width="5.2"/><line x1="957.8" y1="695.3" x2="957.8" y2="708.6" stroke="#000" stroke-width="5.2"/><line x1="1030.11" y1="695.3" x2="1030.11" y2="708.6" stroke="#000" stroke-width="5.2"/><line x1="1081.41" y1="695.3" x2="1081.41" y2="708.6" stroke="#000" stroke-width="5.2"/><line x1="1121.2" y1="695.3" x2="1121.2" y2="708.6" stroke="#000" stroke-width="5.2"/><line x1="1153.71" y1="695.3" x2="1153.71" y2="708.6" stroke="#000" stroke-width="5.2"/><line x1="1181.2" y1="695.3" x2="1181.2" y2="708.6" stroke="#000" stroke-width="5.2"/><line x1="1205.01" y1="695.3" x2="1205.01" y2="708.6" stroke="#000" stroke-width="5.2"/><line x1="1226.01" y1="695.3" x2="1226.01" y2="708.6" stroke="#000" stroke-width="5.2"/><line x1="1368.4" y1="695.3" x2="1368.4" y2="708.6" stroke="#000" stroke-width="5.2"/><line x1="1440.71" y1="695.3" x2="1440.71" y2="708.6" stroke="#000" stroke-width="5.2"/><line x1="1492.01" y1="695.3" x2="1492.01" y2="708.6" stroke="#000" stroke-width="5.2"/>
<line x1="376.5" y1="1420.3" x2="376.5" y2="1445.6" stroke="#000" stroke-width="6.6"/><line x1="834.5" y1="1420.3" x2="834.5" y2="1445.6" stroke="#000" stroke-width="6.6"/><line x1="1244.8" y1="1420.3" x2="1244.8" y2="1445.6" stroke="#000" stroke-width="6.6"/><line x1="468.1" y1="1420.3" x2="468.1" y2="1433.6" stroke="#000" stroke-width="5.2"/><line x1="559.7" y1="1420.3" x2="559.7" y2="1433.6" stroke="#000" stroke-width="5.2"/><line x1="651.3" y1="1420.3" x2="651.3" y2="1433.6" stroke="#000" stroke-width="5.2"/><line x1="742.9" y1="1420.3" x2="742.9" y2="1433.6" stroke="#000" stroke-width="5.2"/><line x1="957.8" y1="1420.3" x2="957.8" y2="1433.6" stroke="#000" stroke-width="5.2"/><line x1="1030.11" y1="1420.3" x2="1030.11" y2="1433.6" stroke="#000" stroke-width="5.2"/><line x1="1081.41" y1="1420.3" x2="1081.41" y2="1433.6" stroke="#000" stroke-width="5.2"/><line x1="1121.2" y1="1420.3" x2="1121.2" y2="1433.6" stroke="#000" stroke-width="5.2"/><line x1="1153.71" y1="1420.3" x2="1153.71" y2="1433.6" stroke="#000" stroke-width="5.2"/><line x1="1181.2" y1="1420.3" x2="1181.2" y2="1433.6" stroke="#000" stroke-width="5.2"/><line x1="1205.01" y1="1420.3" x2="1205.01" y2="1433.6" stroke="#000" stroke-width="5.2"/><line x1="1226.01" y1="1420.3" x2="1226.01" y2="1433.6" stroke="#000" stroke-width="5.2"/><line x1="1368.4" y1="1420.3" x2="1368.4" y2="1433.6" stroke="#000" stroke-width="5.2"/><line x1="1440.71" y1="1420.3" x2="1440.71" y2="1433.6" stroke="#000" stroke-width="5.2"/><line x1="1492.01" y1="1420.3" x2="1492.01" y2="1433.6" stroke="#000" stroke-width="5.2"/>
<line x1="256.5" y1="33.7" x2="285.7" y2="33.7" stroke="#000" stroke-width="6.6"/><line x1="256.5" y1="333.2" x2="285.7" y2="333.2" stroke="#000" stroke-width="6.6"/><line x1="256.5" y1="632.6" x2="285.7" y2="632.6" stroke="#000" stroke-width="6.6"/>
<line x1="256.5" y1="890.2" x2="285.7" y2="890.2" stroke="#000" stroke-width="6.6"/><line x1="256.5" y1="1110" x2="285.7" y2="1110" stroke="#000" stroke-width="6.6"/><line x1="256.5" y1="1329.8" x2="285.7" y2="1329.8" stroke="#000" stroke-width="6.6"/>
<g font-family='"Liberation Sans", Arial, sans-serif' font-size="75" fill="#000"><text transform="translate(227.6,61) scale(1,1.035)" text-anchor="end">0.5</text><text transform="translate(227.6,360.5) scale(1,1.035)" text-anchor="end">0.0</text><text transform="translate(227.6,659.9) scale(1,1.035)" text-anchor="end">-0.5</text><text transform="translate(227.6,917.5) scale(1,1.035)" text-anchor="end">0.0</text><text transform="translate(227.6,1137.3) scale(1,1.035)" text-anchor="end">-0.5</text><text transform="translate(227.6,1357.1) scale(1,1.035)" text-anchor="end">-1.0</text><text transform="translate(376.5,1530.2) scale(1,1.035)" text-anchor="middle">0</text><text transform="translate(834.2,1530.2) scale(1,1.035)" text-anchor="middle">1</text><text transform="translate(1246,1530.2) scale(1,1.035)" text-anchor="middle">10</text></g>
<text x="660.3" y="1632" font-family='"Liberation Sans", Arial, sans-serif' font-size="75.2" fill="#000">Delay time [ps]</text>
<text transform="translate(65.2,1177.8) rotate(-90)" font-family='"Liberation Sans", Arial, sans-serif' font-size="75.2" fill="#000">Absorbance change [mOD]</text>
</g></svg></body></html>
